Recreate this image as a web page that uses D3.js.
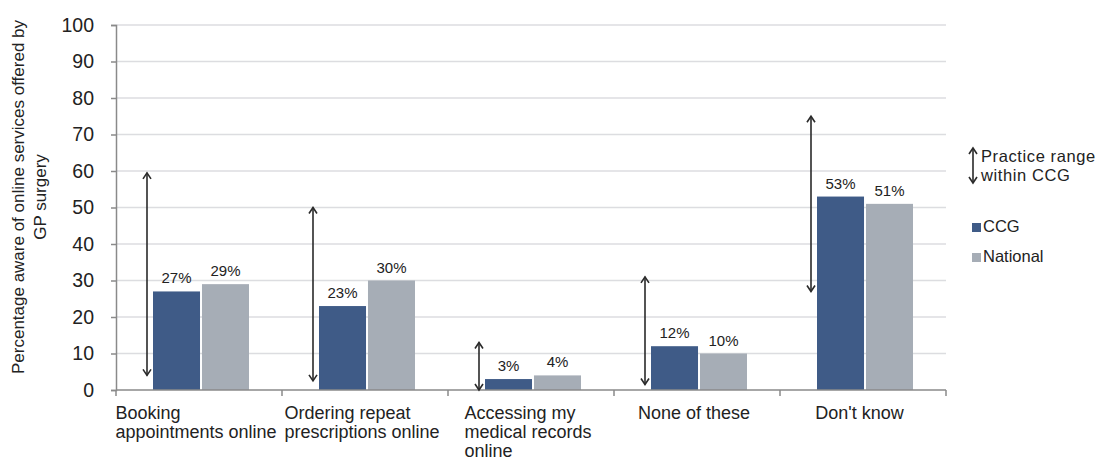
<!DOCTYPE html>
<html><head><meta charset="utf-8">
<script src="https://cdn.jsdelivr.net/npm/d3@7"></script>
<style>body{margin:0;background:#fff;}svg{display:block;font-family:"Liberation Sans",Arial,sans-serif;}</style>
</head><body>
<script>
const categories = [["Booking","appointments online"],["Ordering repeat","prescriptions online"],["Accessing my","medical records","online"],["None of these"],["Don't know"]];
const series = ["CCG","National"];
const ccgValues = [27,23,3,12,53];
const nationalValues = [29,30,4,10,51];
const rangeLow = [4,2.5,0,1.5,27];
const rangeHigh = [59.5,50,13,31,75];
const yTicks = [0,10,20,30,40,50,60,70,80,90,100];
const colors = {CCG:"#3f5b87", National:"#a6adb6"};

const W=1104,H=463;
const svg=d3.select("body").append("svg").attr("width",W).attr("height",H);
const y=d3.scaleLinear().domain([0,100]).range([390,25]);
const x0=d3.scaleBand().domain(d3.range(categories.length)).range([116,946]).padding(0);
const x1=d3.scaleBand().domain(series).range([37,133]).paddingInner(0.04);

// gridlines
svg.append("g").selectAll("line").data(yTicks.slice(1)).join("line")
  .attr("x1",116).attr("x2",946).attr("y1",d=>y(d)).attr("y2",d=>y(d))
  .attr("stroke","#dcdde0").attr("stroke-width",1.5);

// bars
const data=categories.map((c,i)=>({i,vals:[ccgValues[i],nationalValues[i]]}));
const g=svg.append("g").selectAll("g").data(data).join("g").attr("transform",d=>`translate(${x0(d.i)},0)`);
g.selectAll("rect").data(d=>series.map((s,k)=>({s,v:d.vals[k]}))).join("rect")
  .attr("x",d=>x1(d.s)).attr("width",x1.bandwidth()).attr("y",d=>y(d.v)).attr("height",d=>y(0)-y(d.v))
  .attr("fill",d=>colors[d.s]);
g.selectAll("text.val").data(d=>series.map((s,k)=>({s,v:d.vals[k]}))).join("text").attr("class","val")
  .attr("x",d=>x1(d.s)+x1.bandwidth()/2).attr("y",d=>y(d.v)-8)
  .attr("text-anchor","middle").attr("font-size",15).attr("fill","#222").text(d=>d.v+"%");

// axes
const yAxis=svg.append("g").attr("transform","translate(116,0)").call(d3.axisLeft(y).tickValues(yTicks).tickSize(5).tickPadding(17));
yAxis.select(".domain").attr("stroke","#8a8a8a").attr("stroke-width",1.5);
yAxis.selectAll(".tick line").attr("stroke","#8a8a8a").attr("stroke-width",1.5);
yAxis.selectAll("text").attr("font-size",19.5).attr("fill","#222").attr("font-family","Liberation Sans, Arial, sans-serif");

svg.append("line").attr("x1",116).attr("x2",946).attr("y1",390).attr("y2",390).attr("stroke","#8a8a8a").attr("stroke-width",1.5);
const bounds=d3.range(categories.length+1).map(i=>i<categories.length?x0(i):x0(i-1)+x0.bandwidth());
svg.append("g").selectAll("line").data(bounds).join("line")
  .attr("x1",d=>d).attr("x2",d=>d).attr("y1",390).attr("y2",396).attr("stroke","#8a8a8a").attr("stroke-width",1.5);

// category labels
const cl=svg.append("g");
categories.forEach((lines,i)=>{
  const t=cl.append("text").attr("font-size",18).attr("fill","#222");
  lines.forEach((l,k)=>t.append("tspan").attr("x",0).attr("y",419+k*19).text(l));
  const w=t.node().getBBox().width;
  const cx=x0(i)+x0.bandwidth()/2-3;
  t.attr("transform",`translate(${cx-w/2},0)`);
});

// range arrows
function arrow(sel,xp,y1,y2){
  sel.append("line").attr("x1",xp).attr("x2",xp).attr("y1",y1).attr("y2",y2).attr("stroke","#2a2a2a").attr("stroke-width",1.6);
  sel.append("path").attr("d",`M${xp-4},${y1+6}L${xp},${y1}L${xp+4},${y1+6}`).attr("fill","none").attr("stroke","#2a2a2a").attr("stroke-width",1.6);
  sel.append("path").attr("d",`M${xp-4},${y2-6}L${xp},${y2}L${xp+4},${y2-6}`).attr("fill","none").attr("stroke","#2a2a2a").attr("stroke-width",1.6);
}
const ag=svg.append("g");
categories.forEach((c,i)=>arrow(ag,x0(i)+31,y(rangeHigh[i]),y(rangeLow[i])));

// y title
const yt=svg.append("text").attr("transform","translate(0,197) rotate(-90)").attr("text-anchor","middle").attr("font-size",17).attr("fill","#222");
yt.append("tspan").attr("x",0).attr("y",24).text("Percentage aware of online services offered by");
yt.append("tspan").attr("x",0).attr("y",46).text("GP surgery");

// legend
const lg=svg.append("g");
arrow(lg,973,148,183);
const lt=lg.append("text").attr("font-size",16.5).attr("fill","#222").attr("letter-spacing",0.6);
lt.append("tspan").attr("x",981).attr("y",162).text("Practice range");
lt.append("tspan").attr("x",981).attr("y",181).text("within CCG");
series.forEach((s,k)=>{
  lg.append("rect").attr("x",972).attr("y",223+k*30).attr("width",9).attr("height",9).attr("fill",colors[s]);
  lg.append("text").attr("x",983).attr("y",232+k*30).attr("font-size",16.5).attr("fill","#222").text(s);
});
</script>
</body></html>
